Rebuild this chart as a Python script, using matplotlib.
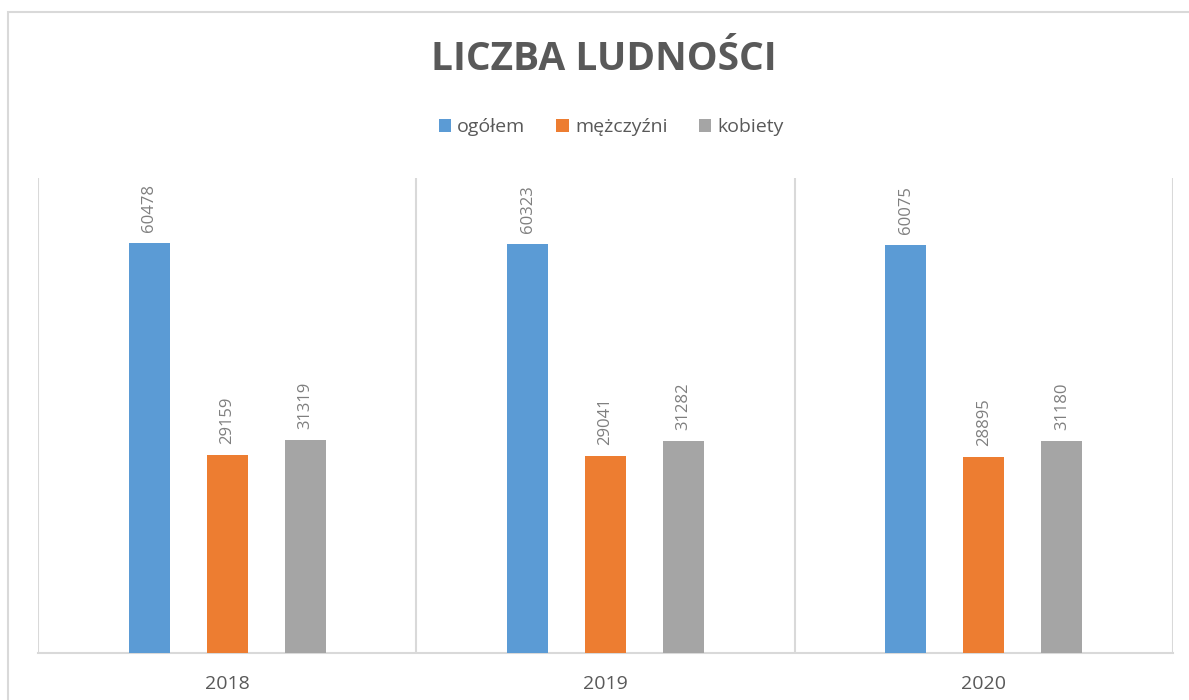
import matplotlib
matplotlib.use("Agg")
import matplotlib.pyplot as plt
import numpy as np
from matplotlib.patches import Rectangle

years = ["2018", "2019", "2020"]
series_names = ["ogółem", "mężczyźni", "kobiety"]
ogolem = [60478, 60323, 60075]
mezczyzni = [29159, 29041, 28895]
kobiety = [31319, 31282, 31180]
title = "LICZBA LUDNOŚCI"

colors = ["#5B9BD5", "#ED7D31", "#A5A5A5"]
text_col = "#595959"
label_col = "#7F7F7F"
grid_col = "#D9D9D9"

plt.rcParams['font.family'] = ['Open Sans', 'DejaVu Sans']

W, H = 1189, 700
fig = plt.figure(figsize=(W / 100, H / 100), dpi=100)
fig.patch.set_facecolor("white")

# outer chart border
fig.patches.append(Rectangle((8 / W, -0.1), 1.2, (H - 12) / H + 0.1,
                             transform=fig.transFigure, fill=False,
                             edgecolor=grid_col, linewidth=1.5))

ax = fig.add_axes([38 / W, 1 - 653 / H, (1173 - 38) / W, (653 - 178) / H])
x = np.arange(len(years))
width = 0.108
offset = 0.206
data = [ogolem, mezczyzni, kobiety]
for i, (vals, name, c) in enumerate(zip(data, series_names, colors)):
    bars = ax.bar(x + (i - 1) * offset, vals, width, color=c, label=name, zorder=3)
    for b, v in zip(bars, vals):
        ax.annotate(str(v), (b.get_x() + b.get_width() / 2, v),
                    xytext=(0, 8), textcoords="offset points",
                    rotation=90, ha="center", va="bottom",
                    fontsize=12, color=label_col)

ax.set_xlim(-0.5, len(years) - 0.5)
ax.set_ylim(0, 70000)
ax.set_yticks([])
ax.set_xticks(x)
ax.set_xticklabels(years, fontsize=14, color=text_col)
ax.tick_params(axis="x", length=0, pad=16)
for s in ["top", "right", "left"]:
    ax.spines[s].set_visible(False)
ax.spines["bottom"].set_color(grid_col)
ax.spines["bottom"].set_linewidth(1.5)
for b in np.arange(-0.5, len(years), 1.0):
    ax.axvline(b, color=grid_col, linewidth=1.5, zorder=1)

fig.text(604 / W, 1 - 60 / H, title, ha="center", va="center",
         fontsize=28, fontweight="bold", color=text_col)

leg = fig.legend(*ax.get_legend_handles_labels(), loc="center",
                 bbox_to_anchor=(611 / W, 1 - 127 / H), ncol=3, frameon=False,
                 fontsize=14, handlelength=0.65, handleheight=0.65,
                 handletextpad=0.3, columnspacing=1.6, labelcolor=text_col)

fig.savefig("out.png", dpi=100)
